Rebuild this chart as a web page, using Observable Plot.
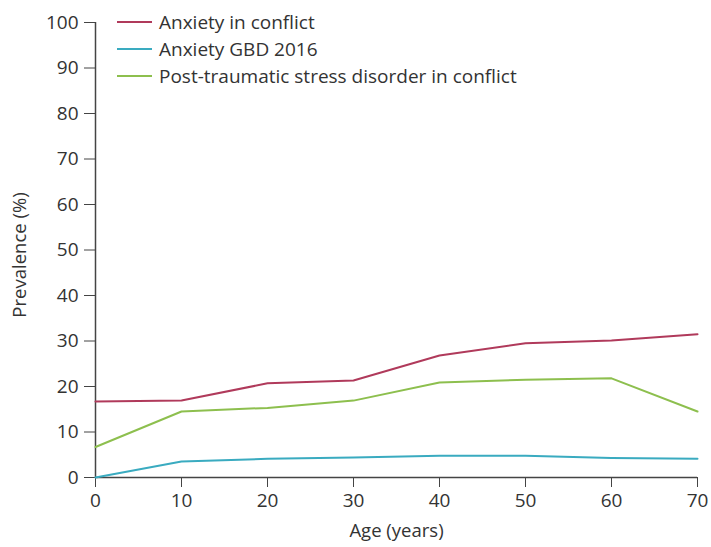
<!DOCTYPE html>
<html>
<head>
<meta charset="utf-8">
<script src="https://cdn.jsdelivr.net/npm/d3@7"></script>
<script src="https://cdn.jsdelivr.net/npm/@observablehq/plot@0.6"></script>
<style>
  html, body { margin: 0; padding: 0; background: #fff; }
  #wrap { position: relative; width: 711px; height: 547px; font-family: "Open Sans", sans-serif; }
  #legend { position: absolute; left: 117px; top: 8px; font-size: 19px; color: #333; }
  #legend .row { display: flex; align-items: center; height: 27px; }
  #legend .sw { width: 35px; height: 0; border-top: 2px solid; margin-right: 7px; }
</style>
</head>
<body>
<div id="wrap"><div id="legend"></div></div>
<script>
const ages = [0, 10, 20, 30, 40, 50, 60, 70];
const anxietyConflict = [16.7, 16.9, 20.7, 21.3, 26.8, 29.5, 30.1, 31.5];
const anxietyGBD = [0, 3.5, 4.1, 4.4, 4.8, 4.8, 4.3, 4.1];
const ptsdConflict = [6.7, 14.5, 15.3, 16.9, 20.9, 21.5, 21.8, 14.5];
const seriesNames = ["Anxiety in conflict", "Anxiety GBD 2016", "Post-traumatic stress disorder in conflict"];
const seriesColors = ["#b03a5b", "#3aabc0", "#8dbf4e"];
const xTicks = [0, 10, 20, 30, 40, 50, 60, 70];
const yTicks = [0, 10, 20, 30, 40, 50, 60, 70, 80, 90, 100];

const seriesValues = [anxietyConflict, anxietyGBD, ptsdConflict];
const rows = [];
seriesNames.forEach((name, i) => {
  ages.forEach((a, j) => rows.push({series: name, age: a, value: seriesValues[i][j]}));
});

const chart = Plot.plot({
  width: 711,
  height: 547,
  marginLeft: 95,
  marginRight: 14,
  marginTop: 22,
  marginBottom: 70,
  style: {fontFamily: "Open Sans, sans-serif", fontSize: "19px", color: "#333", background: "#fff"},
  x: {domain: [0, 70]},
  y: {domain: [0, 100]},
  color: {domain: seriesNames, range: seriesColors},
  marks: [
    Plot.ruleX([0], {stroke: "#444", strokeWidth: 1.5}),
    Plot.ruleY([0], {stroke: "#444", strokeWidth: 1.5}),
    Plot.axisY({ticks: yTicks, tickSize: 11, tickPadding: 6, stroke: "#444", label: null}),
    Plot.axisX({ticks: xTicks, tickSize: 10, tickPadding: 6, stroke: "#444", label: null}),
    Plot.text(["Prevalence (%)"], {frameAnchor: "left", textAnchor: "middle", dx: -75, dy: 5, rotate: -90, fontSize: 18.5, fill: "#333"}),
    Plot.text(["Age (years)"], {frameAnchor: "bottom", dy: 59, fontSize: 18.5, fill: "#333"}),
    Plot.lineY(rows, {x: "age", y: "value", stroke: "series", strokeWidth: 2})
  ]
});
document.getElementById("wrap").prepend(chart);

const legend = document.getElementById("legend");
seriesNames.forEach((name, i) => {
  const row = document.createElement("div");
  row.className = "row";
  const sw = document.createElement("span");
  sw.className = "sw";
  sw.style.borderColor = seriesColors[i];
  const t = document.createElement("span");
  t.textContent = name;
  row.append(sw, t);
  legend.append(row);
});
</script>
</body>
</html>
